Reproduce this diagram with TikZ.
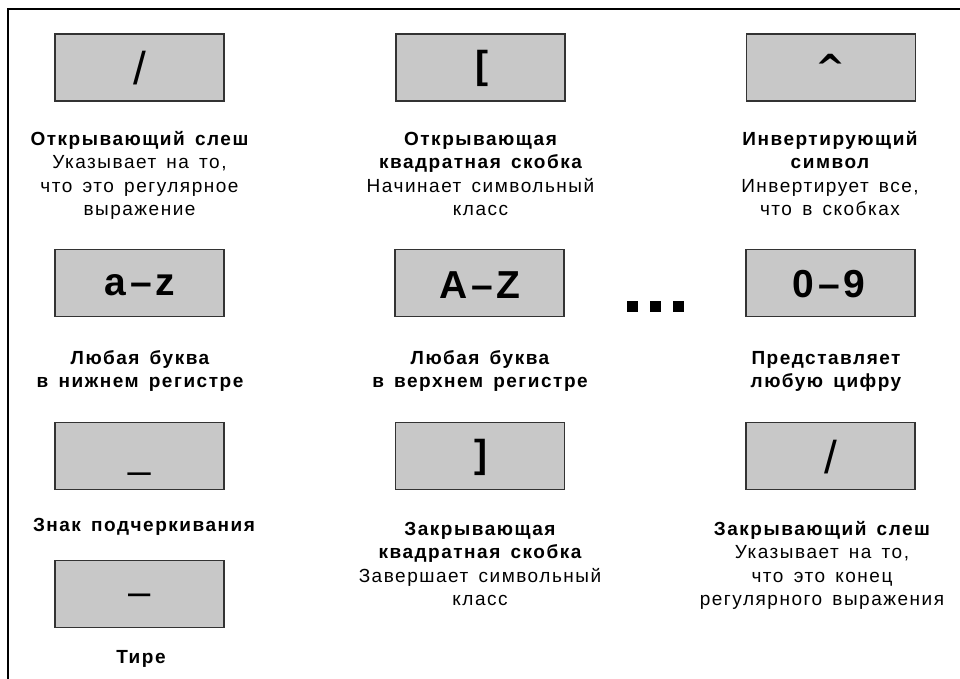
\documentclass[tikz,border=0pt]{standalone}
\usepackage{fontspec}
\setmainfont{Liberation Sans}
\newfontfamily\capfont{Liberation Sans}[LetterSpace=8,WordSpace=1.5]
\newfontfamily\keyfont{Liberation Sans}[LetterSpace=10]
\newfontfamily\caretfont{DejaVu Sans Bold}
\definecolor{boxgray}{HTML}{C8C8C8}
\definecolor{boxline}{HTML}{333333}
\tikzset{
  keybox/.style={draw=boxline, fill=boxgray, line width=1.5pt, minimum width=169pt, minimum height=67pt, inner sep=0pt},
  caption/.style={align=center, anchor=base, inner sep=0pt, font=\capfont\fontsize{19}{23.5}\selectfont},
  bigkey/.style={anchor=center, inner sep=0pt, font=\keyfont\bfseries\fontsize{39}{39}\selectfont},
  glyph/.style={anchor=base, inner sep=0pt},
  framestyle/.style={line width=1.5pt, black},
  dot/.style={fill=black}
}
\begin{document}
\begin{tikzpicture}[x=1pt,y=-1pt]
\useasboundingbox (0,0) rectangle (960,679);
% frame
\coordinate (fr1) at (960,9);
\coordinate (fr2) at (8,9);
\coordinate (fr3) at (8,679);
\draw[framestyle] (fr1) -- (fr2) -- (fr3);

% row 1
\node[keybox] (b11) at (139.5,67.5) {};
\node[keybox] (b12) at (480.5,67.5) {};
\node[keybox] (b13) at (831,67.5) {};
\node[glyph, font=\fontsize{46}{46}\selectfont] (g11) at (139.5,85) {/};
\node[glyph, font=\bfseries\fontsize{39}{39}\selectfont] (g12) at (482,79) {[};
\node[glyph, font=\caretfont\fontsize{36}{36}\selectfont] (g13) at (831,80.5) {\textasciicircum};

\node[caption] (c11) at (139.5,215.5) {\bfseries Открывающий слеш\\Указывает на то,\\что это регулярное\\выражение};
\node[caption] (c12) at (480.5,215.5) {\bfseries Открывающая\\\bfseries квадратная скобка\\Начинает символьный\\класс};
\node[caption] (c13) at (830,215.5) {\bfseries Инвертирующий\\\bfseries символ\\Инвертирует все,\\что в скобках};

% row 2
\node[keybox] (b21) at (139.5,283) {};
\node[keybox] (b22) at (479.5,283) {};
\node[keybox] (b23) at (830.5,283) {};
\node[bigkey] (g21) at (140,285) {a–z};
\node[bigkey] (g22) at (480,285) {A–Z};
\node[bigkey] (g23) at (829,284) {0–9};
\fill[dot] (626.5,300.5) rectangle (637.5,311.5);
\fill[dot] (649.5,300.5) rectangle (660.5,311.5);
\fill[dot] (672.5,300.5) rectangle (683.5,311.5);

\node[caption] (c21) at (140,387.5) {\bfseries Любая буква\\\bfseries в нижнем регистре};
\node[caption] (c22) at (480,387.5) {\bfseries Любая буква\\\bfseries в верхнем регистре};
\node[caption] (c23) at (826,387.5) {\bfseries Представляет\\\bfseries любую цифру};

% row 3
\node[keybox] (b31) at (139.5,456) {};
\node[keybox] (b32) at (480,456) {};
\node[keybox] (b33) at (830.5,456) {};
\node[glyph, font=\fontsize{40}{40}\selectfont] (g31) at (140,467) {\_};
\node[glyph, font=\bfseries\fontsize{39}{39}\selectfont] (g32) at (481,467) {]};
\node[glyph, font=\fontsize{46}{46}\selectfont] (g33) at (830.5,473) {/};

\node[caption] (c31) at (144,531) {\bfseries Знак подчеркивания};
\node[caption] (c32) at (480,605.5) {\bfseries Закрывающая\\\bfseries квадратная скобка\\Завершает символьный\\класс};
\node[caption] (c33) at (822,605.5) {\bfseries Закрывающий слеш\\Указывает на то,\\что это конец\\регулярного выражения};

% row 4
\node[keybox] (b41) at (139.5,594) {};
\node[glyph, font=\fontsize{40}{40}\selectfont] (g41) at (140,605) {–};
\node[caption] (c41) at (141,663) {\bfseries Тире};
\end{tikzpicture}
\end{document}
